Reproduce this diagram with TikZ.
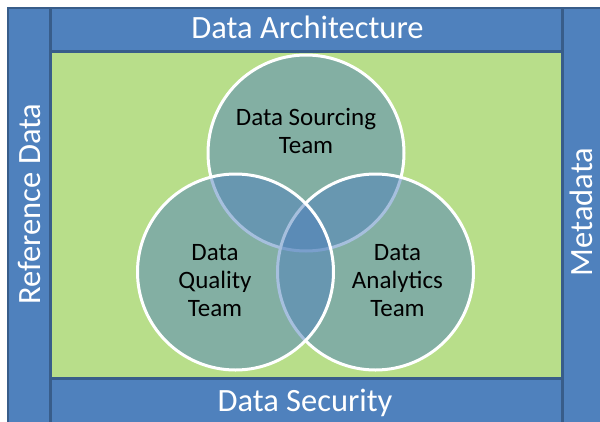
\documentclass[tikz,border=0pt]{standalone}
\usepackage{fontspec}
\setmainfont{Carlito}

\definecolor{barfill}{RGB}{79,129,189}
\definecolor{barline}{RGB}{56,93,138}
\definecolor{fieldgreen}{RGB}{184,222,138}

\tikzset{
  bar/.style={rectangle,draw=barline,line width=2.5pt,fill=barfill,inner sep=0pt},
  barlabel/.style={text=white,inner sep=0pt,anchor=base,font=\fontsize{32.5}{36}\selectfont},
  team/.style={circle,draw=white,line width=3pt,fill=barfill,fill opacity=.5,minimum size=196pt,inner sep=0pt},
  teamlabel/.style={align=center,inner sep=0pt,font=\fontsize{25}{28}\selectfont}
}

\begin{document}
\begin{tikzpicture}[x=1pt,y=-1pt]

      \useasboundingbox (0,0) rectangle (600,421);
      \clip (0,0) rectangle (600,421);

      \fill[fieldgreen] (50,50) rectangle (563,379);

      \begin{scope}[every node/.style={bar}]
        \node[minimum width=42.5pt,minimum height=432pt] (refbar)  at (29.25,224)  {};
        \node[minimum width=77.5pt,minimum height=432pt] (metabar) at (601.25,224) {};
        \node[minimum width=512pt,minimum height=43.5pt] (archbar) at (306.5,29.75) {};
        \node[minimum width=512pt,minimum height=61.5pt] (secbar)  at (306.5,409.25) {};
      \end{scope}

      \begin{scope}[every node/.style={barlabel}]
        \node (archtext) at (307.5,38.5) {Data Architecture};
        \node (sectext)  at (305,411)    {Data Security};
        \node[rotate=90] (reftext)  at (40,204)  {Reference Data};
        \node[rotate=90] (metatext) at (592,212) {Metadata};
      \end{scope}

      \begin{scope}[every node/.style={team}]
        \node (sourcing)  at (306,153)   {};
        \node (analytics) at (375.5,272) {};
        \node (quality)   at (235.5,272) {};
      \end{scope}

      \begin{scope}[every node/.style={teamlabel}]
        \node (sourcingtext)  at (306,130.5) {Data Sourcing\\Team};
        \node (qualitytext)   at (215,281)   {Data\\Quality\\Team};
        \node (analyticstext) at (397.5,281) {Data\\Analytics\\Team};
      \end{scope}

    \end{tikzpicture}
\end{document}
